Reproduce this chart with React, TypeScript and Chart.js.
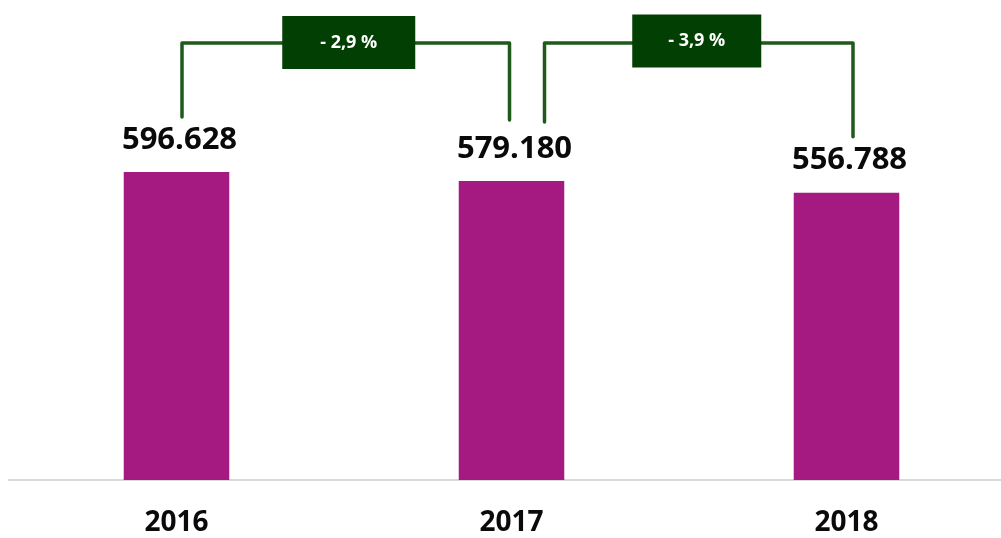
import React, { useEffect, useRef } from "react";
import { Chart, registerables } from "chart.js";

Chart.register(...registerables);

const categories = ["2016", "2017", "2018"];
const values = [596628, 579180, 556788];
const valueLabels = ["596.628", "579.180", "556.788"];
const changeLabels = ["- 2,9 %", "- 3,9 %"];

const BAR_COLOR = "#a51a80";
const LINE_COLOR = "#1f5a1b";
const BOX_COLOR = "#023f02";

// per-bracket style offsets: [leftDx, leftDropFromBarTop, rightDx, rightDropFromBarTop]
const bracketStyle = [
  [5.5, 55, -2, 61],
  [33, 59, 6.5, 56],
];

const annotationPlugin = {
  id: "annotations",
  afterDatasetsDraw(chart: any) {
    const ctx = chart.ctx;
    const meta = chart.getDatasetMeta(0);
    const bars = meta.data;
    const top = chart.chartArea.top;
    ctx.save();
    // value labels
    ctx.font = "bold 31px 'Open Sans'";
    ctx.fillStyle = "#0a0a0a";
    ctx.textAlign = "center";
    ctx.textBaseline = "middle";
    bars.forEach((bar: any, i: number) => {
      const p = bar.getProps(["x", "y"], true);
      ctx.fillText(valueLabels[i], p.x + 3, p.y - 32);
    });
    // brackets
    const lineY = top + 43;
    changeLabels.forEach((label, i) => {
      const a = bars[i].getProps(["x", "y"], true);
      const b = bars[i + 1].getProps(["x", "y"], true);
      const st = bracketStyle[i];
      const lx = a.x + st[0];
      const ly = a.y - st[1];
      const rx = b.x + st[2];
      const ry = b.y - st[3];
      ctx.strokeStyle = LINE_COLOR;
      ctx.lineWidth = 3.5;
      ctx.lineJoin = "round";
      ctx.lineCap = "round";
      ctx.beginPath();
      ctx.moveTo(lx, ly);
      ctx.lineTo(lx, lineY);
      ctx.lineTo(rx, lineY);
      ctx.lineTo(rx, ry);
      ctx.stroke();
      const cx = (lx + rx) / 2 + (i === 0 ? 3 : -2);
      const bw = i === 0 ? 133 : 129;
      const bh = 53;
      const cy = lineY - 0.5 - (i === 1 ? 1.5 : 0);
      ctx.fillStyle = BOX_COLOR;
      ctx.fillRect(cx - bw / 2, cy - bh / 2, bw, bh);
      ctx.fillStyle = "#ffffff";
      ctx.font = "bold 18px 'Open Sans'";
      ctx.textAlign = "center";
      ctx.textBaseline = "middle";
      ctx.fillText(label, cx, cy);
    });
    ctx.restore();
  },
};

export default function App() {
  const canvasRef = useRef<HTMLCanvasElement>(null);

  useEffect(() => {
    const canvas = canvasRef.current;
    if (!canvas) return;
    const chart = new Chart(canvas, {
      type: "bar",
      data: {
        labels: categories,
        datasets: [
          {
            data: values,
            backgroundColor: BAR_COLOR,
            borderWidth: 0,
            categoryPercentage: 1,
            barPercentage: 0.315,
          },
        ],
      },
      options: {
        responsive: false,
        animation: false,
        devicePixelRatio: 1,
        layout: { padding: { left: 9, right: 2, top: 0, bottom: 0 } },
        plugins: {
          legend: { display: false },
          tooltip: { enabled: false },
          title: { display: false },
        },
        scales: {
          x: {
            grid: { display: false, drawTicks: false },
            border: { display: true, color: "#d9d9d9", width: 2 },
            ticks: {
              color: "#0a0a0a",
              font: { family: "'Open Sans'", size: 28, weight: "bold" },
              padding: 26,
            },
            afterFit(scale: any) {
              scale.height = 58;
            },
          },
          y: {
            display: false,
            min: 0,
            max: 930000,
          },
        },
      },
      plugins: [annotationPlugin],
    });
    return () => chart.destroy();
  }, []);

  return (
    <div
      style={{
        position: "fixed",
        left: 0,
        top: 0,
        width: 1001,
        height: 538,
        overflow: "hidden",
        background: "#ffffff",
      }}
    >
      <canvas ref={canvasRef} width={1016} height={538} style={{ display: "block" }} />
    </div>
  );
}
